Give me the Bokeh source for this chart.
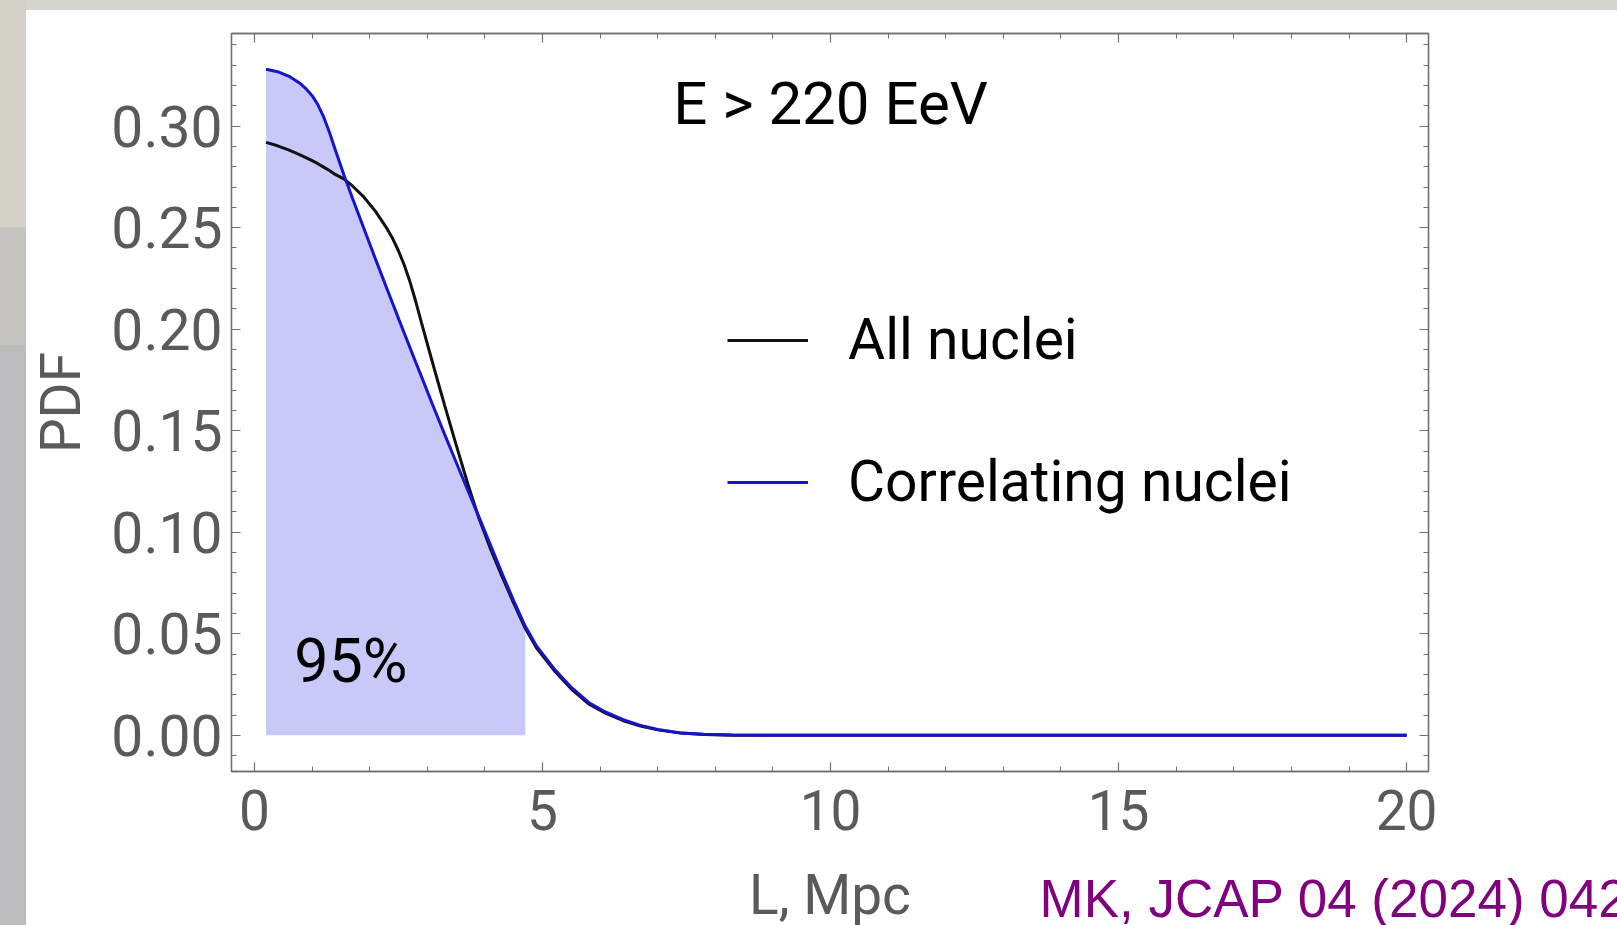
from bokeh.plotting import figure
from bokeh.models import (ColumnDataSource, FixedTicker, LinearAxis, Label, Legend,
                          LegendItem, NumeralTickFormatter, Range1d, Spacer)
from bokeh.layouts import row, column
from bokeh.embed import file_html
from bokeh.resources import INLINE

# ---------------- data ----------------
L_mpc = [0.2, 0.4, 0.6, 0.8, 0.9, 1.0, 1.1, 1.2, 1.3, 1.4, 1.55, 1.7, 1.9, 2.1, 2.3,
         2.4, 2.5, 2.6, 2.7, 2.8, 2.9, 3.1, 3.3, 3.5, 3.7, 3.9, 4.1, 4.3, 4.5, 4.7,
         4.9, 5.2, 5.5, 5.8, 6.1, 6.4, 6.7, 7.0, 7.4, 7.8, 8.3, 9.0, 10.0, 12.0, 15.0, 20.0]

pdf_all = [0.2920, 0.2903, 0.2882, 0.2857, 0.2844, 0.2830, 0.2815, 0.2798, 0.2781, 0.2762,
           0.2740, 0.2705, 0.2650, 0.2580, 0.2495, 0.2445, 0.2385, 0.2315, 0.2232, 0.2135,
           0.2030, 0.1825, 0.1625, 0.1430, 0.1240, 0.1065, 0.0915, 0.0780, 0.0650, 0.0527,
           0.0428, 0.0320, 0.0228, 0.0155, 0.0108, 0.0072, 0.0046, 0.0027, 0.0011, 0.0004,
           0.0001, 0.0, 0.0, 0.0, 0.0, 0.0]

pdf_corr = [0.3280, 0.3268, 0.3245, 0.3208, 0.3182, 0.3150, 0.3105, 0.3045, 0.2970, 0.2885,
            0.2760, 0.2645, 0.2495, 0.2345, 0.2198, 0.2125, 0.2052, 0.1980, 0.1908, 0.1836,
            0.1765, 0.1622, 0.1482, 0.1345, 0.1208, 0.1072, 0.0935, 0.0795, 0.0662, 0.0537,
            0.0438, 0.0328, 0.0236, 0.0162, 0.0114, 0.0077, 0.0049, 0.0029, 0.0012, 0.0005,
            0.0002, 0.0, 0.0, 0.0, 0.0, 0.0]

cutoff_95 = 4.7          # upper edge of the shaded 95% region, Mpc

series_labels = ["All nuclei", "Correlating nuclei"]

x_ticks = [0, 5, 10, 15, 20]
x_minor = [1, 2, 3, 4, 6, 7, 8, 9, 11, 12, 13, 14, 16, 17, 18, 19]
y_ticks = [0.00, 0.05, 0.10, 0.15, 0.20, 0.25, 0.30]
y_minor = [-0.01, 0.01, 0.02, 0.03, 0.04, 0.06, 0.07, 0.08, 0.09, 0.11, 0.12, 0.13, 0.14,
           0.16, 0.17, 0.18, 0.19, 0.21, 0.22, 0.23, 0.24, 0.26, 0.27, 0.28, 0.29,
           0.31, 0.32, 0.33, 0.34]

title_text = "E > 220 EeV"
shade_text = "95%"
x_title = "L, Mpc"
y_title = "PDF"
citation = "MK, JCAP 04 (2024) 042"

# ---------------- styles ----------------
FRAME = "#6f6f6f"
TICKLBL = "#5a5a5a"
BLUE = "#1515cc"
BLACK = "#111111"
FILL = "#c9c9f9"
BG_TOP = "#d6d4cc"

src = ColumnDataSource(dict(L=L_mpc, all=pdf_all, corr=pdf_corr))
shade_idx = [i for i, v in enumerate(L_mpc) if v <= cutoff_95]
shade = ColumnDataSource(dict(L=[L_mpc[i] for i in shade_idx],
                              corr=[pdf_corr[i] for i in shade_idx],
                              base=[0.0 for _ in shade_idx]))

p = figure(frame_width=1197, frame_height=738,
           x_range=Range1d(-0.40, 20.38), y_range=Range1d(-0.0178, 0.3456),
           output_backend="svg", toolbar_location=None,
           min_border_left=205, min_border_right=189, min_border_top=23, min_border_bottom=86,
           background_fill_color="white", border_fill_color="white",
           outline_line_color=FRAME, outline_line_width=1.3)

p.xgrid.visible = False
p.ygrid.visible = False

xticker = FixedTicker(ticks=x_ticks, minor_ticks=x_minor)
yticker = FixedTicker(ticks=y_ticks, minor_ticks=y_minor)


def style(ax, size=None):
    ax.axis_line_color = FRAME
    ax.axis_line_width = 1.3
    ax.major_tick_in = 9
    ax.major_tick_out = 0
    ax.minor_tick_in = 5
    ax.minor_tick_out = 0
    ax.major_tick_line_color = FRAME
    ax.minor_tick_line_color = FRAME
    ax.major_tick_line_width = 1.2
    ax.minor_tick_line_width = 1.0
    ax.major_label_text_font = "Roboto"
    if size is None:
        ax.major_label_text_color = None
        ax.major_label_text_font_size = "1px"
        ax.major_label_standoff = 0
    else:
        ax.major_label_text_color = TICKLBL
        ax.major_label_text_font_size = size


xa = p.xaxis[0]
xa.ticker = xticker
style(xa, "55px")
xa.major_label_standoff = 18

ya = p.yaxis[0]
ya.ticker = yticker
ya.formatter = NumeralTickFormatter(format="0.00")
style(ya, "57px")
ya.major_label_standoff = 9
ya.axis_label = y_title
ya.axis_label_text_font = "Roboto"
ya.axis_label_text_font_size = "55px"
ya.axis_label_text_font_style = "normal"
ya.axis_label_text_color = TICKLBL
ya.axis_label_standoff = 15

top = LinearAxis(ticker=xticker)
style(top)
p.add_layout(top, "above")
right = LinearAxis(ticker=yticker)
style(right)
p.add_layout(right, "right")

# shaded 95% region under the correlating curve
p.varea(x="L", y1="base", y2="corr", source=shade, fill_color=FILL, fill_alpha=1.0)

r_all = p.line(x="L", y="all", source=src, line_color=BLACK, line_width=3)
r_corr = p.line(x="L", y="corr", source=src, line_color=BLUE, line_width=3)

legend = Legend(items=[LegendItem(label=series_labels[0], renderers=[r_all]),
                       LegendItem(label=series_labels[1], renderers=[r_corr])],
                location=(496, 256), orientation="vertical",
                glyph_width=81, glyph_height=20, label_standoff=40, spacing=75,
                padding=0, margin=0, border_line_alpha=0, background_fill_alpha=0,
                label_text_font="Roboto", label_text_font_size="57px",
                label_text_color="black")
p.add_layout(legend)

p.add_layout(Label(x=10, y=0.3113, text=title_text, text_align="center",
                   text_baseline="alphabetic", text_font="Roboto",
                   text_font_size="60px", text_color="black"))
p.add_layout(Label(x=0.69, y=0.0368, text=shade_text, text_align="left",
                   text_baseline="alphabetic", text_font="Roboto",
                   text_font_size="61px", text_color="black"))

# caption strip below the plot: axis title and citation
cap = figure(width=1591, height=68, x_range=Range1d(0, 1591), y_range=Range1d(0, 68),
             x_axis_type=None, y_axis_type=None, output_backend="svg",
             toolbar_location=None, min_border=0, outline_line_color=None,
             background_fill_color="white", border_fill_color="white")
if "frame_align" in cap.properties():
    cap.frame_align = False
    p.frame_align = False
cap.xgrid.visible = False
cap.ygrid.visible = False
cap.add_layout(Label(x=803.5, y=31, x_units="screen", y_units="screen", text=x_title,
                     text_align="center", text_baseline="alphabetic", text_font="Roboto",
                     text_font_size="55px", text_color=TICKLBL))
cap.add_layout(Label(x=1013, y=27, x_units="screen", y_units="screen", text=citation,
                     text_align="left", text_baseline="alphabetic",
                     text_font="Liberation Sans", text_font_size="53px",
                     text_color="#800080"))

# photographic slide background at the top and left edges
strip = column(Spacer(width=26, height=227, styles={"background-color": "#d3d1c8"}),
               Spacer(width=26, height=118, styles={"background-color": "#c6c4be"}),
               Spacer(width=26, height=580, styles={"background-color": "#bcbcbe"}),
               spacing=0)
main = column(Spacer(width=1591, height=10, styles={"background-color": BG_TOP}),
              p, row(cap, spacing=0), spacing=0)

page = row(strip, main, spacing=0)

open("out.html", "w").write(file_html(page, INLINE))
